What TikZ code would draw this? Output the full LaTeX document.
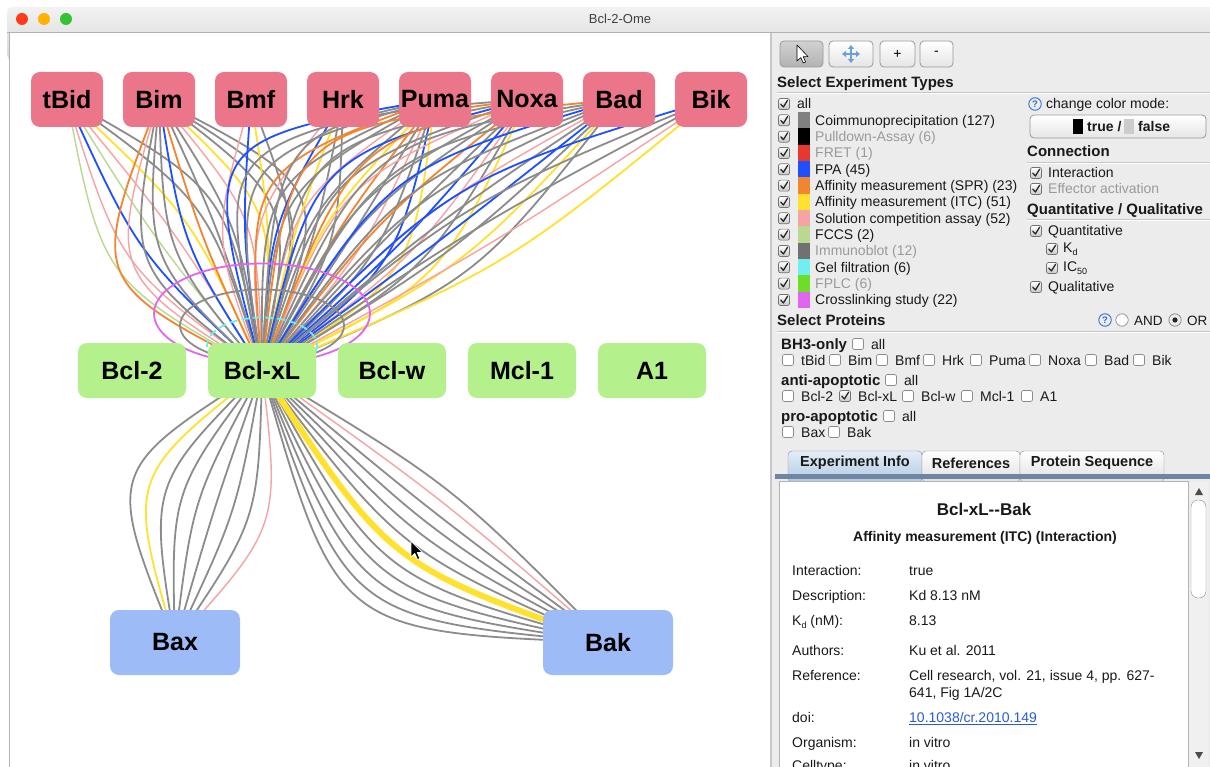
\documentclass[tikz,border=0pt]{standalone}
\usepackage{fontspec}
\setmainfont{Liberation Sans}
\usetikzlibrary{calc,arrows.meta}
\pgfdeclarelayer{bg}
\pgfdeclarelayer{edges}
\pgfsetlayers{bg,edges,main}

\definecolor{npink}{HTML}{EB768A}
\definecolor{ngreen}{HTML}{B4F08C}
\definecolor{nblue}{HTML}{9DBCF7}
\definecolor{egray}{HTML}{8C8C8C}
\definecolor{eblue}{HTML}{1E50FF}
\definecolor{eorange}{HTML}{F28530}
\definecolor{eyellow}{HTML}{FFE12E}
\definecolor{epink}{HTML}{F5A3A3}
\definecolor{elgreen}{HTML}{B8D98F}
\definecolor{emag}{HTML}{E066F0}
\definecolor{ecyan}{HTML}{70EEF0}
\definecolor{swgray}{HTML}{808080}
\definecolor{swred}{HTML}{E8382E}
\definecolor{swimm}{HTML}{717171}
\definecolor{swfplc}{HTML}{6EDD2A}
\definecolor{panel}{HTML}{ECECEC}
\definecolor{dis}{HTML}{9A9A9A}
\definecolor{sepc}{HTML}{C6C6C6}
\definecolor{linkc}{HTML}{2A5BD7}
\definecolor{qblue}{HTML}{2F6FD0}
\definecolor{qmove}{HTML}{6F9FD8}
\definecolor{tabbar}{HTML}{6E86A3}
\definecolor{tabtop}{HTML}{E3EDF7}
\definecolor{tabbot}{HTML}{B2C9E2}

\newcommand\fsz[1]{\fontsize{#1}{#1}\selectfont}
\newcommand\edgefan[6]{%
  \foreach \ec [count=\ei] in {#6}{%
    \pgfmathsetmacro\eoff{#3*(\ei-(#5+1)/2)+#4}%
    \draw[conn,\ec] (#1.center) .. controls ($(#1.center)!0.5!(#2.center)!\eoff pt!90:(#2.center)$) .. (#2.center);%
  }}
\newcommand\chkbox[3]{%
  \ifnum#3=1\relax
    \path[cbc] (#1-5.5,#2-5.5) rectangle (#1+5.5,#2+5.5);
    \draw[tick] (#1-3.2,#2+0.2) -- (#1-0.6,#2+3) -- (#1+3.6,#2-3.8);
  \else
    \path[cbu] (#1-5.5,#2-5.5) rectangle (#1+5.5,#2+5.5);
  \fi}
\newcommand\ptxt[5]{\node[#1] (#2) at (#3,#4+5) {#5};}
\newcommand\qicon[3]{\node[qic] (#1) at (#2,#3) {?};}

\tikzset{
  prot/.style={rounded corners=9pt, inner sep=0pt, font=\fsz{25}\bfseries, text=black},
  bh3/.style={prot, fill=npink, minimum width=72pt, minimum height=55pt},
  anti/.style={prot, fill=ngreen, minimum width=108pt, minimum height=55pt},
  pro/.style={prot, fill=nblue, minimum width=130pt, minimum height=65pt},
  conn/.style={line width=1.8pt},
  eg/.style={draw=egray}, eb/.style={draw=eblue}, eo/.style={draw=eorange},
  ey/.style={draw=eyellow}, ep/.style={draw=epink,line width=1.4pt},
  el/.style={draw=elgreen,line width=1.4pt}, et/.style={draw=eyellow,line width=6pt},
  enone/.style={draw=none},
  txt/.style={anchor=base west, inner sep=0pt, font=\fsz{14}, text=black!90},
  dtxt/.style={txt, text=dis},
  hd/.style={txt, font=\fsz{15}\bfseries},
  btn/.style={rounded corners=4pt, draw=black!40, top color=white, bottom color=black!10, line width=0.8pt},
  cbu/.style={rounded corners=2pt, draw=black!45, fill=white, line width=0.7pt},
  cbc/.style={rounded corners=2pt, draw=black!55, top color=white, bottom color=black!22, line width=0.7pt},
  tick/.style={draw=black!85, line width=1.3pt, line cap=round, line join=round},
  qic/.style={circle, draw=qblue, line width=0.9pt, inner sep=0pt, minimum size=12.5pt, font=\fsz{9.5}\bfseries, text=qblue},
  tabsel/.style={draw=black!45, top color=tabtop, bottom color=tabbot, rounded corners=4pt},
  tabun/.style={draw=black!45, top color=white, bottom color=black!12, rounded corners=4pt},
  tabt/.style={inner sep=0pt, font=\fsz{14.5}\bfseries, text=black!90},
}

\begin{document}
\begin{tikzpicture}[x=1pt,y=-1pt]
\useasboundingbox (0,0) rectangle (1210,767);
\begin{pgfonlayer}{bg}
  \fill[white] (0,0) rectangle (1210,767);
  \shade[top color=black!5, bottom color=black!16, rounded corners=5pt] (7,7) rectangle (1230,60);
  \fill[white] (10,33) rectangle (771,767);
  \fill[panel] (771,33) rectangle (1210,767);
  \draw[black!30, line width=0.8pt] (7,32.5) -- (1210,32.5);
  \draw[black!30, line width=1pt] (9.5,33) -- (9.5,767);
  \draw[black!22, line width=1.5pt] (771,33) -- (771,767);
\end{pgfonlayer}

% title bar
\fill[red!70!orange!90] (22,19) circle (6);
\fill[orange!60!yellow] (44,19) circle (6);
\fill[green!70!black!80] (66,19) circle (6);
\node[font=\fsz{13}, text=black!75, inner sep=0pt] (title) at (620,19) {Bcl-2-Ome};

% protein nodes
\node[bh3] (tbid) at (67,99.5) {tBid};
\node[bh3] (bim) at (159,99.5) {Bim};
\node[bh3] (bmf) at (251,99.5) {Bmf};
\node[bh3] (hrk) at (343,99.5) {Hrk};
\node[bh3] (puma) at (435,99.5) {Puma};
\node[bh3] (noxa) at (527,99.5) {Noxa};
\node[bh3] (bad) at (619,99.5) {Bad};
\node[bh3] (bik) at (711,99.5) {Bik};
\node[anti] (bcl2) at (132,370.5) {Bcl-2};
\node[anti] (bclxl) at (262,370.5) {Bcl-xL};
\node[anti] (bclw) at (392,370.5) {Bcl-w};
\node[anti] (mcl1) at (522,370.5) {Mcl-1};
\node[anti] (a1) at (652,370.5) {A1};
\node[pro] (bax) at (175,642.5) {Bax};
\node[pro] (bak) at (608,642.5) {Bak};

\begin{pgfonlayer}{edges}
  \edgefan{tbid}{bclxl}{22}{0}{8}{el,ep,eb,el,ep,ey,eg,eg}
  \edgefan{bim}{bclxl}{20}{0}{14}{eo,ep,eg,eg,eg,eb,eo,eg,eg,ep,ey,eg,eg,eg}
  \edgefan{bmf}{bclxl}{30}{0}{4}{ep,eb,ey,eg}
  \edgefan{hrk}{bclxl}{24}{-10}{5}{ep,eb,ey,eg,eg}
  \edgefan{puma}{bclxl}{18}{-50}{15}{eb,eg,eg,eo,eg,eg,ep,eg,ey,eo,eg,ep,eg,eb,ey}
  \edgefan{noxa}{bclxl}{18}{-50}{14}{eg,eo,eg,eb,eg,ep,eg,eg,eo,eg,eb,ep,eg,ey}
  \edgefan{bad}{bclxl}{18}{-40}{12}{eo,eg,eg,eb,eg,eg,ep,eg,eb,eg,ey,eg}
  \edgefan{bik}{bclxl}{26}{-14}{5}{eb,eg,eg,ep,ey}
  \edgefan{bclxl}{bax}{23}{-27}{9}{eg,ey,eg,eg,eg,eg,eg,eg,ep}
  \edgefan{bclxl}{bak}{17}{-66}{12}{eg,eg,eg,eg,eg,enone,eg,eg,eg,eg,ep,eg}
  \draw[conn,et] (bclxl.center) .. controls ($(bclxl.center)!0.5!(bak.center)!-74.5pt!90:(bak.center)$) .. (bak.center);
  \draw[emag, conn] ($(bclxl.center)+(0,-57)$) ellipse [x radius=108, y radius=50];
  \draw[egray, conn] ($(bclxl.center)+(0,-45)$) ellipse [x radius=82, y radius=36];
  \draw[ecyan, conn, dash pattern=on 8pt off 4pt] ($(bclxl.center)+(0,-25)$) ellipse [x radius=55, y radius=28];
\end{pgfonlayer}

% mouse pointer on canvas
\filldraw[fill=black, draw=white, line width=0.7pt, line join=round] (411,541) -- (411,557) -- (414.8,553.4) -- (417.5,559.5) -- (419.8,558.5) -- (417.2,552.6) -- (422.2,552.4) -- cycle;

% ---------- right panel ----------
% toolbar
\path[btn, top color=black!18, bottom color=black!30] (780,41) rectangle (823,67);
\path[btn] (829,41) rectangle (873,67);
\path[btn] (880,41) rectangle (915,67);
\path[btn] (920,41) rectangle (953,67);
\filldraw[fill=white, draw=black, line width=0.6pt, line join=round] (797,45) -- (797,61) -- (800.8,57.6) -- (803.3,63) -- (805.6,62) -- (803.2,56.8) -- (808,56.6) -- cycle;
\foreach \a in {0,90,180,270} \draw[draw=qmove, fill=qmove, line width=1.6pt, -{Triangle[length=4pt,width=6pt]}] (851,54) -- ++(\a:9);
\node[font=\fsz{14}, inner sep=0pt] (plus) at (897.5,54) {+};
\node[font=\fsz{14}, inner sep=0pt] (minus) at (936.5,53) {-};

% experiment types
\ptxt{hd}{hexp}{777}{82.5}{Select Experiment Types}
\draw[sepc, line width=1pt] (777,92.5) -- (1210,92.5);
\draw[white, line width=1pt] (777,93.5) -- (1210,93.5);
\chkbox{784}{104}{1}
\ptxt{txt}{eall}{797}{104}{all}
\foreach \xc/\xt/\xs [count=\xi] in {swgray/Coimmunoprecipitation (127)/txt, black/Pulldown-Assay (6)/dtxt, swred/FRET (1)/dtxt, eblue/FPA (45)/txt, eorange/Affinity measurement (SPR) (23)/txt, eyellow/Affinity measurement (ITC) (51)/txt, epink/Solution competition assay (52)/txt, elgreen/FCCS (2)/txt, swimm/Immunoblot (12)/dtxt, ecyan/Gel filtration (6)/txt, swfplc/FPLC (6)/dtxt, emag/Crosslinking study (22)/txt}{
  \pgfmathsetmacro\yy{104+16.33*\xi}
  \chkbox{784}{\yy}{1}
  \fill[\xc] (798,\yy-8.2) rectangle (810,\yy+8.2);
  \ptxt{\xs}{ex\xi}{815}{\yy}{\xt}
}

% color mode
\qicon{q1}{1035}{104}
\ptxt{txt}{ccm}{1046}{104}{change color mode:}
\path[btn] (1030,115) rectangle (1206,138);
\fill[black] (1073,119) rectangle (1083,134);
\ptxt{txt}{btrue}{1087}{126.5}{\bfseries true /}
\fill[black!20] (1124,119) rectangle (1134,134);
\ptxt{txt}{bfalse}{1138}{126.5}{\bfseries false}

% connection
\ptxt{hd}{hcon}{1027}{152}{Connection}
\draw[sepc, line width=1pt] (1027,162.5) -- (1210,162.5);
\draw[white, line width=1pt] (1027,163.5) -- (1210,163.5);
\chkbox{1036}{173}{1}
\ptxt{txt}{cint}{1048}{173}{Interaction}
\chkbox{1036}{189}{1}
\ptxt{dtxt}{ceff}{1048}{189}{Effector activation}
\ptxt{hd}{hqq}{1027}{209.5}{Quantitative / Qualitative}
\draw[sepc, line width=1pt] (1027,219.5) -- (1210,219.5);
\draw[white, line width=1pt] (1027,220.5) -- (1210,220.5);
\chkbox{1036}{231}{1}
\ptxt{txt}{cquan}{1048}{231}{Quantitative}
\chkbox{1052}{249}{1}
\ptxt{txt}{ckd}{1063}{248}{K\raisebox{-3pt}{\fsz{9}d}}
\chkbox{1052}{268}{1}
\ptxt{txt}{cic}{1063}{267}{IC\raisebox{-3pt}{\fsz{9}50}}
\chkbox{1036}{287}{1}
\ptxt{txt}{cqual}{1048}{287}{Qualitative}

% select proteins
\ptxt{hd}{hprot}{777}{320}{Select Proteins}
\qicon{q2}{1105}{320}
\filldraw[fill=white, draw=black!45, line width=0.7pt] (1122,320) circle (6.2);
\node[txt, font=\fsz{13.5}] (land) at (1134,325) {AND};
\filldraw[fill=black!8, draw=black!50, line width=0.7pt] (1175,320) circle (6.2);
\fill[black!85] (1175,320) circle (2.6);
\node[txt, font=\fsz{13.5}] (lor) at (1187,325) {OR};
\draw[sepc, line width=1pt] (777,331.5) -- (1210,331.5);
\draw[white, line width=1pt] (777,332.5) -- (1210,332.5);

\ptxt{hd}{hbh3}{781}{344}{BH3-only}
\chkbox{858}{344}{0}
\ptxt{txt}{bh3all}{871}{344}{all}
\foreach \px/\pn/\pc [count=\pk] in {788/tBid/0,835/Bim/0,882/Bmf/0,929/Hrk/0,976/Puma/0,1035/Noxa/0,1091/Bad/0,1139/Bik/0}{
  \chkbox{\px}{360}{\pc}
  \ptxt{txt}{pb\pk}{\px+13}{360}{\pn}
}
\ptxt{hd}{hanti}{781}{380}{anti-apoptotic}
\chkbox{891}{380}{0}
\ptxt{txt}{antiall}{904}{380}{all}
\foreach \px/\pn/\pc [count=\pk] in {788/Bcl-2/0,845/Bcl-xL/1,908/Bcl-w/0,967/Mcl-1/0,1027/A1/0}{
  \chkbox{\px}{396}{\pc}
  \ptxt{txt}{pa\pk}{\px+13}{396}{\pn}
}
\ptxt{hd}{hpro}{781}{416}{pro-apoptotic}
\chkbox{889}{416}{0}
\ptxt{txt}{proall}{902}{416}{all}
\chkbox{788}{432}{0}
\ptxt{txt}{pp1}{801}{432}{Bax}
\chkbox{834}{432}{0}
\ptxt{txt}{pp2}{847}{432}{Bak}

% tabs
\path[tabsel] (788,451) rectangle (922,482);
\path[tabun] (922,451) rectangle (1020,482);
\path[tabun] (1020,451) rectangle (1164,482);
\node[tabt] (tab1) at (855,463) {Experiment Info};
\node[tabt] (tab2) at (971,463) {References};
\node[tabt] (tab3) at (1092,463) {Protein Sequence};
\fill[tabbar] (775,474) rectangle (1210,479);

% info box
\path[draw=black!30, fill=white] (779,481.5) rectangle (1188,790);
\fill[black!6] (1189,481.5) rectangle (1208,767);
\draw[black!30] (1188.5,481.5) -- (1188.5,767);
\path[draw=black!45, fill=white, rounded corners=7pt] (1191,500) rectangle (1206,598);
\fill[black!70] (1195,495) -- (1203,495) -- (1199,488) -- cycle;
\fill[black!70] (1195,752) -- (1203,752) -- (1199,759) -- cycle;

\node[font=\fsz{17}\bfseries, inner sep=0pt, text=black!90] (ititle) at (984,509) {Bcl-xL-\kern0pt-Bak};
\node[font=\fsz{14}\bfseries, inner sep=0pt, text=black!90] (isub) at (985,538) {Affinity measurement (ITC) (Interaction)};
\foreach \ry/\rl/\rv [count=\rk] in {570/Interaction:/true, 595/Description:/Kd 8.13 nM, 650/Authors:/Ku et al. 2011, 742/Organism:/in vitro, 765/Celltype:/in vitro}{
  \ptxt{txt}{il\rk}{792}{\ry}{\rl}
  \ptxt{txt}{iv\rk}{909}{\ry}{\rv}
}
\ptxt{txt}{ilkd}{792}{620}{K\raisebox{-3pt}{\fsz{9}d} (nM):}
\ptxt{txt}{ivkd}{909}{620}{8.13}
\ptxt{txt}{ilref}{792}{675}{Reference:}
\ptxt{txt}{ivref}{909}{675}{Cell research, vol. 21, issue 4, pp. 627-}
\ptxt{txt}{ivrefb}{909}{692}{641, Fig 1A/2C}
\ptxt{txt}{ildoi}{792}{717}{doi:}
\node[txt, text=linkc] (ivdoi) at (909,722) {10.1038/cr.2010.149};
\draw[linkc, line width=0.8pt] ($(ivdoi.base west)+(0,2)$) -- ($(ivdoi.base east)+(0,2)$);
\end{tikzpicture}
\end{document}
